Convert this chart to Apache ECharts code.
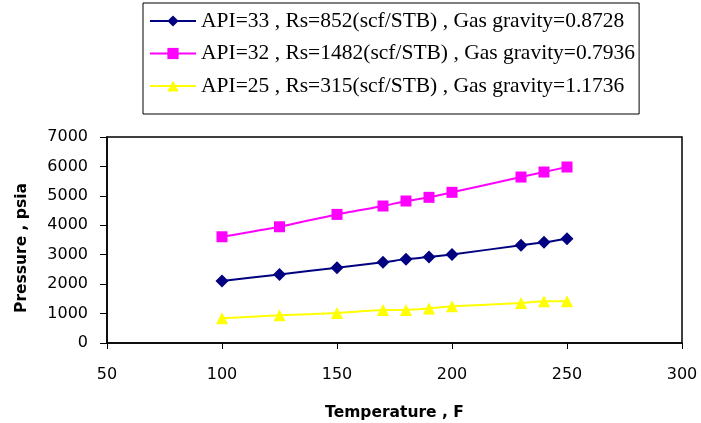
<!DOCTYPE html>
<html><head><meta charset="utf-8">
<script src="https://cdn.jsdelivr.net/npm/echarts@6/dist/echarts.min.js"></script>
<style>html,body{margin:0;padding:0;background:#fff}#c{width:701px;height:423px}</style>
</head><body><div id="c"></div>
<script>
const temperatures = [100, 125, 150, 170, 180, 190, 200, 230, 240, 250];
const api33 = [2110, 2330, 2560, 2740, 2850, 2920, 3010, 3320, 3420, 3545];
const api32 = [3610, 3950, 4370, 4655, 4825, 4950, 5120, 5640, 5810, 5980];
const api25 = [840, 940, 1020, 1120, 1125, 1175, 1245, 1360, 1415, 1420];
const seriesNames = [
  'API=33 , Rs=852(scf/STB) , Gas gravity=0.8728',
  'API=32 , Rs=1482(scf/STB) , Gas gravity=0.7936',
  'API=25 , Rs=315(scf/STB) , Gas gravity=1.1736'
];
const pair = arr => temperatures.map((t, i) => [t, arr[i]]);
const chart = echarts.init(document.getElementById('c'));
const sans = 'DejaVu Sans';
chart.setOption({
  animation: false,
  backgroundColor: '#fff',
  legend: {
    orient: 'vertical', left: 143, top: 3,
    padding: [7, 4, 17, 6],
    borderColor: '#000', borderWidth: 1,
    itemWidth: 46, itemHeight: 14, itemGap: 10.5,
    textStyle: { fontFamily: 'Liberation Serif', fontSize: 21.5, lineHeight: 21, color: '#000' },
    data: seriesNames
  },
  grid: { left: 107, right: 19, top: 137, bottom: 80, show: true, borderColor: '#000', borderWidth: 1.5 },
  xAxis: {
    type: 'value', min: 50, max: 300, interval: 50,
    name: 'Temperature , F', nameLocation: 'middle', nameGap: 62,
    nameTextStyle: { fontFamily: sans, fontSize: 15.5, fontWeight: 'bold', color: '#000' },
    axisLine: { lineStyle: { color: '#000', width: 1.5 } },
    axisTick: { show: true, length: 6, lineStyle: { color: '#000' } },
    axisLabel: { fontFamily: sans, fontSize: 16, color: '#000', margin: 24 },
    splitLine: { show: false }
  },
  yAxis: {
    type: 'value', min: 0, max: 7000, interval: 1000,
    name: 'Pressure , psia', nameLocation: 'middle', nameGap: 77,
    nameTextStyle: { fontFamily: sans, fontSize: 15.5, fontWeight: 'bold', color: '#000', padding: [0, 16, 0, 0] },
    axisLine: { show: true, lineStyle: { color: '#000', width: 1.5 } },
    axisTick: { show: true, length: 7, lineStyle: { color: '#000' } },
    axisLabel: { fontFamily: sans, fontSize: 16, color: '#000', margin: 19, formatter: v => String(v) },
    splitLine: { show: false }
  },
  series: [
    { name: seriesNames[0], type: 'line', data: pair(api33), smooth: 0.2,
      symbol: 'diamond', symbolSize: 13,
      lineStyle: { color: '#000080', width: 2 }, itemStyle: { color: '#000080' } },
    { name: seriesNames[1], type: 'line', data: pair(api32), smooth: 0.2,
      symbol: 'rect', symbolSize: 11,
      lineStyle: { color: '#FF00FF', width: 2 }, itemStyle: { color: '#FF00FF' } },
    { name: seriesNames[2], type: 'line', data: pair(api25), smooth: 0.2,
      symbol: 'triangle', symbolSize: 12,
      lineStyle: { color: '#FFFF00', width: 2 }, itemStyle: { color: '#FFFF00' } }
  ]
});
</script></body></html>
